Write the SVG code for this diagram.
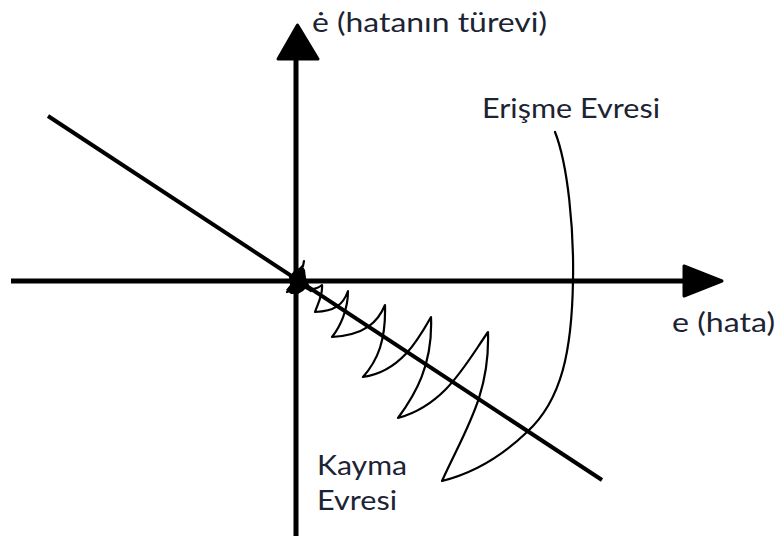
<svg xmlns="http://www.w3.org/2000/svg" width="779" height="539" viewBox="0 0 779 539">
<style>
.axis{stroke:#000;stroke-width:5;fill:none}
.head{fill:#000;stroke:#000;stroke-width:3;stroke-linejoin:round}
.slide{stroke:#000;stroke-width:4;fill:none}
.traj{stroke:#000;stroke-width:2.2;fill:none;stroke-linejoin:round;stroke-linecap:round}
.lbl{font-family:Lato,"Open Sans","Liberation Sans",sans-serif;font-size:27px;fill:#1c2333}
</style>
<rect width="779" height="539" fill="#fff"/>
<g id="connectors">
<line class="axis" x1="296" y1="58" x2="296" y2="536"/>
<polygon class="head" points="297.5,25 278,59 318,59"/>
<line class="axis" x1="11" y1="281" x2="686" y2="281"/>
<polygon class="head" points="722,281 684,266 684,296"/>
<line class="slide" x1="48" y1="116" x2="602" y2="480"/>
</g>
<g id="trajectory">
<path class="traj" d="M555,132 C568,165 574,230 573,280 C572,350 562,400 527,432 C500,458 470,474 442,481 C465,430 490,395 488,332 C465,365 445,405 398,418 C415,395 433,365 431,317 C418,340 400,372 363,377 C378,360 386,340 385,305 C378,322 365,335 332,337 C340,327 348,310 348,291 C343,305 335,311 315,312 C318,303 323,295 322,285 C316,290 308,290 300,286"/>
<polygon points="289,277 294,271 299,268 302,265 305,270 306,278 309,285 303,291 298,294 291,294 286,290 290,285" fill="#000"/>
<path class="traj" d="M287,292 L296,288 M303,266 L304,261 M305,287 L311,291" stroke-width="3"/>
</g>
<g id="label-edot"><text class="lbl" x="312" y="32" textLength="235" lengthAdjust="spacingAndGlyphs">ė (hatanın türevi)</text></g>
<g id="label-e"><text class="lbl" x="672" y="332" textLength="103" lengthAdjust="spacingAndGlyphs">e (hata)</text></g>
<g id="label-erisme"><text class="lbl" x="482" y="118" textLength="178" lengthAdjust="spacingAndGlyphs">Erişme Evresi</text></g>
<g id="label-kayma"><text class="lbl" x="317" y="475" textLength="90" lengthAdjust="spacingAndGlyphs">Kayma</text>
<text class="lbl" x="317" y="510" textLength="80" lengthAdjust="spacingAndGlyphs">Evresi</text></g>
</svg>
